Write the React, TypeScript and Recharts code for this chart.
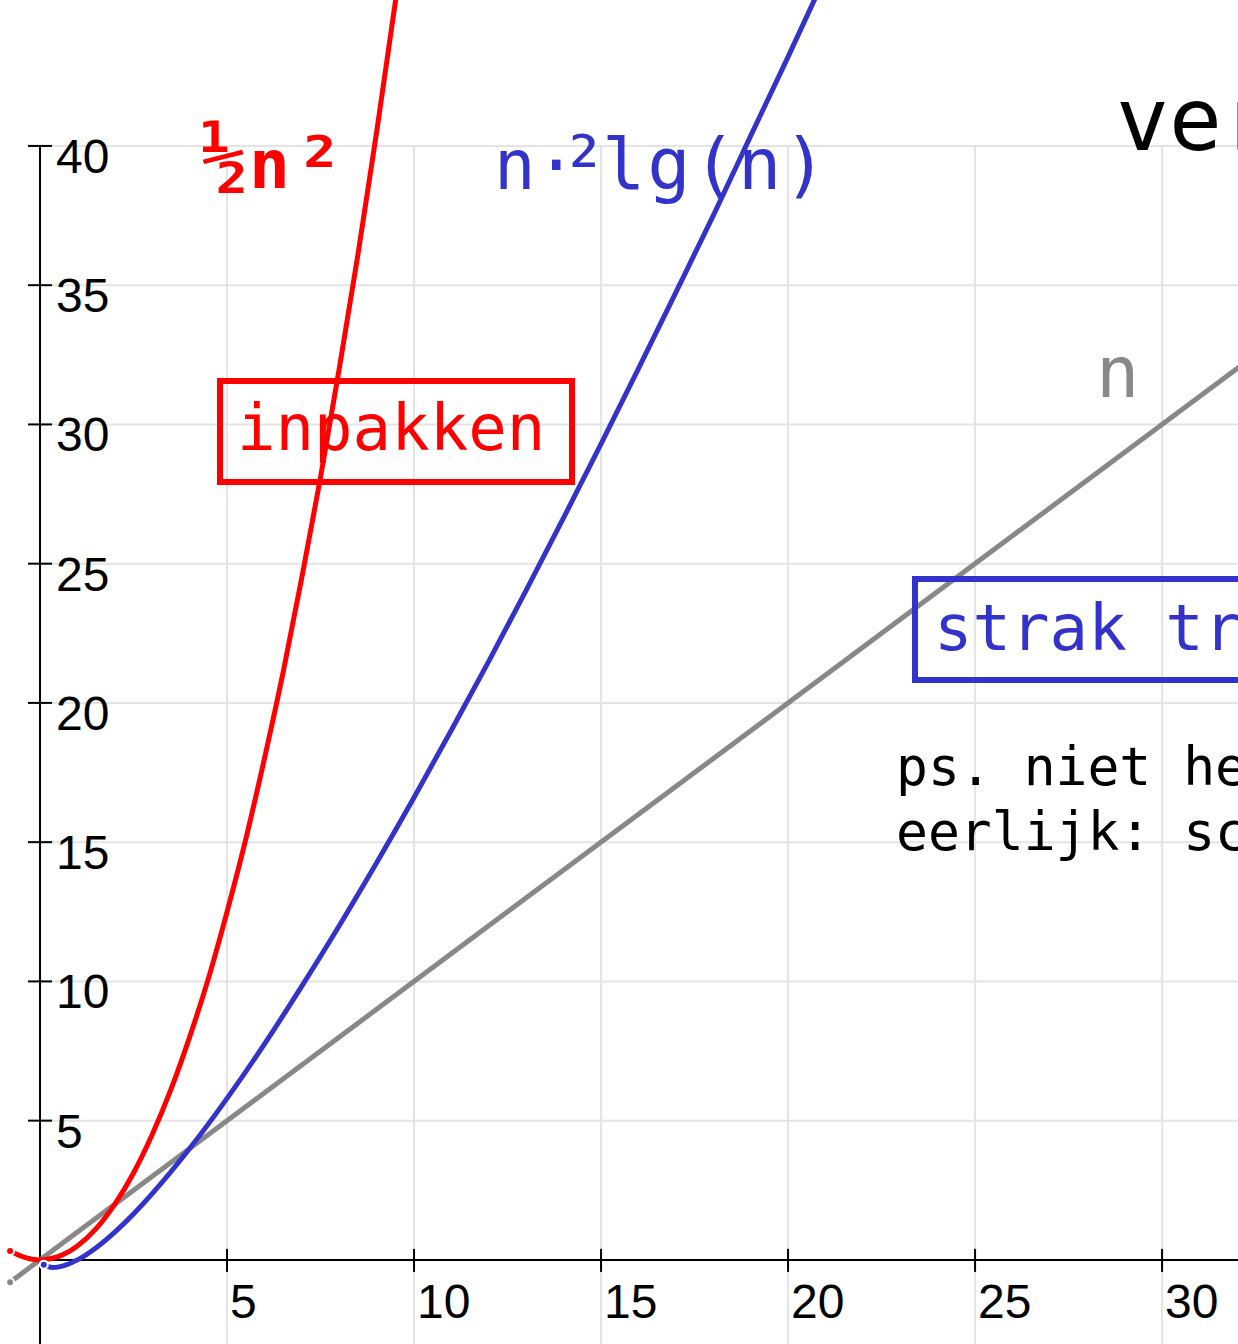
import React from 'react';
import { LineChart, Line, XAxis, YAxis, ReferenceLine, ReferenceDot } from 'recharts';

const W = 1238;
const H = 1344;
const X_MIN = -1.07;
const X_MAX = 32.03;
const Y_MIN = -3.02;
const Y_MAX = 45.24;

const xTicks = [5, 10, 15, 20, 25, 30];
const yTicks = [5, 10, 15, 20, 25, 30, 35, 40];

// ½n² (red)
const redX = [-0.8, -0.5, -0.2, 0, 0.3, 0.6, 1, 1.5, 2, 2.5, 3, 3.5, 4, 4.5, 5, 5.5, 6, 6.5, 7, 7.5, 8, 8.5, 9, 9.6];
const redY = [0.32, 0.13, 0.02, 0, 0.05, 0.18, 0.5, 1.12, 2, 3.12, 4.5, 6.12, 8, 10.1, 12.5, 15.1, 18, 21.1, 24.5, 28.1, 32, 36.1, 40.5, 46.1];

// n·²lg(n) (blue)
const blueX = [0.1, 0.2, 0.35, 0.5, 0.7, 1, 1.5, 2, 2.5, 3, 4, 5, 6, 7, 8, 9, 10, 11, 12, 13, 14, 15, 16, 17, 18, 19, 20, 21];
const blueY = [-0.17, -0.23, -0.27, -0.25, -0.18, 0, 0.44, 1, 1.65, 2.38, 4, 5.8, 7.75, 9.83, 12, 14.26, 16.6, 19.03, 21.5, 24.05, 26.65, 29.3, 32, 34.74, 37.5, 40.36, 43.2, 46.1];

// n (gray)
const grayX = [-0.8, 32.1];
const grayY = [-0.8, 32.1];

const toData = (xs: number[], ys: number[]) => xs.map((x, i) => ({ x, y: ys[i] }));
const redData = toData(redX, redY);
const blueData = toData(blueX, blueY);
const grayData = toData(grayX, grayY);

const GRID = '#e4e4e4';
const RED = '#ff0000';
const BLUE = '#3333cc';
const GRAY = '#888888';
const MONO = '"DejaVu Sans Mono", monospace';
const TICKFONT = '"Liberation Sans", Arial, sans-serif';

const XTickShape = (label: number) => (p: any) => (
  <g>
    <line x1={p.cx} x2={p.cx} y1={p.cy - 11} y2={p.cy + 12} stroke="#000" strokeWidth={2} />
    <text x={p.cx + 3} y={p.cy + 58} fontSize={48} fontFamily={TICKFONT} fill="#000">{label}</text>
  </g>
);

const YTickShape = (label: number) => (p: any) => (
  <g>
    <line x1={p.cx - 12} x2={p.cx + 12} y1={p.cy} y2={p.cy} stroke="#000" strokeWidth={2} />
    <text x={p.cx + 16} y={p.cy + 27} fontSize={48} fontFamily={TICKFONT} fill="#000">{label}</text>
  </g>
);

const Annotations = () => (
  <svg width={W} height={H} style={{ position: 'absolute', left: 0, top: 0, pointerEvents: 'none' }}>
    <text x={1116} y={150} fontSize={88} fontFamily={MONO} fill="#000">vergelijking</text>
    <text fontFamily={MONO} fill={RED} fontWeight="bold">
      <tspan x={201} y={183} fontSize={76}>½</tspan>
      <tspan x={249} y={188} fontSize={68}>n</tspan>
      <tspan x={296} y={192} fontSize={78}>²</tspan>
    </text>
    <text fontFamily={MONO} fill={BLUE}>
      <tspan x={494} y={189} fontSize={69}>n·</tspan>
      <tspan x={560} y={193} fontSize={80}>²</tspan>
      <tspan x={602} y={189} fontSize={72} letterSpacing={2}>lg(n)</tspan>
    </text>
    <text x={1096} y={397} fontSize={72} fontFamily={MONO} fill={GRAY}>n</text>
    <rect x={220} y={381} width={352} height={101} fill="none" stroke={RED} strokeWidth={6} />
    <text x={237} y={450} fontSize={64} fontFamily={MONO} fill={RED}>inpakken</text>
    <rect x={915} y={579} width={400} height={101} fill="none" stroke={BLUE} strokeWidth={6} />
    <text x={934} y={650} fontSize={64} fontFamily={MONO} fill={BLUE}>strak trekken</text>
    <text x={896} y={785} fontSize={53} fontFamily={MONO} fill="#000">ps. niet helemaal</text>
    <text x={896} y={850} fontSize={53} fontFamily={MONO} fill="#000">eerlijk: schaal</text>
  </svg>
);

export default function App() {
  return (
    <div style={{ position: 'absolute', left: 0, top: 0, width: W, height: H, overflow: 'hidden', background: '#fff' }}>
      <LineChart width={W} height={H} margin={{ top: 0, right: 0, bottom: 0, left: 0 }}>
        <XAxis type="number" dataKey="x" domain={[X_MIN, X_MAX]} hide allowDataOverflow />
        <YAxis type="number" dataKey="y" domain={[Y_MIN, Y_MAX]} hide allowDataOverflow />
        {xTicks.map((t) => (
          <ReferenceLine key={'gx' + t} segment={[{ x: t, y: Y_MIN }, { x: t, y: 40 }]} stroke={GRID} strokeWidth={2} />
        ))}
        {yTicks.map((t) => (
          <ReferenceLine key={'gy' + t} segment={[{ x: 0, y: t }, { x: X_MAX, y: t }]} stroke={GRID} strokeWidth={2} />
        ))}
        <ReferenceLine segment={[{ x: 0, y: Y_MIN }, { x: 0, y: 40 }]} stroke="#000" strokeWidth={2} />
        <ReferenceLine segment={[{ x: 0, y: 0 }, { x: X_MAX, y: 0 }]} stroke="#000" strokeWidth={2} />
        {xTicks.map((t) => (
          <ReferenceDot key={'tx' + t} x={t} y={0} r={0} shape={XTickShape(t)} />
        ))}
        {yTicks.map((t) => (
          <ReferenceDot key={'ty' + t} x={0} y={t} r={0} shape={YTickShape(t)} />
        ))}
        <Line data={grayData} dataKey="y" type="linear" stroke={GRAY} strokeWidth={5} dot={false} isAnimationActive={false} />
        <Line data={redData} dataKey="y" type="monotone" stroke={RED} strokeWidth={5} dot={false} isAnimationActive={false} />
        <Line data={blueData} dataKey="y" type="monotone" stroke={BLUE} strokeWidth={5} dot={false} isAnimationActive={false} />
      </LineChart>
      <Annotations />
    </div>
  );
}
